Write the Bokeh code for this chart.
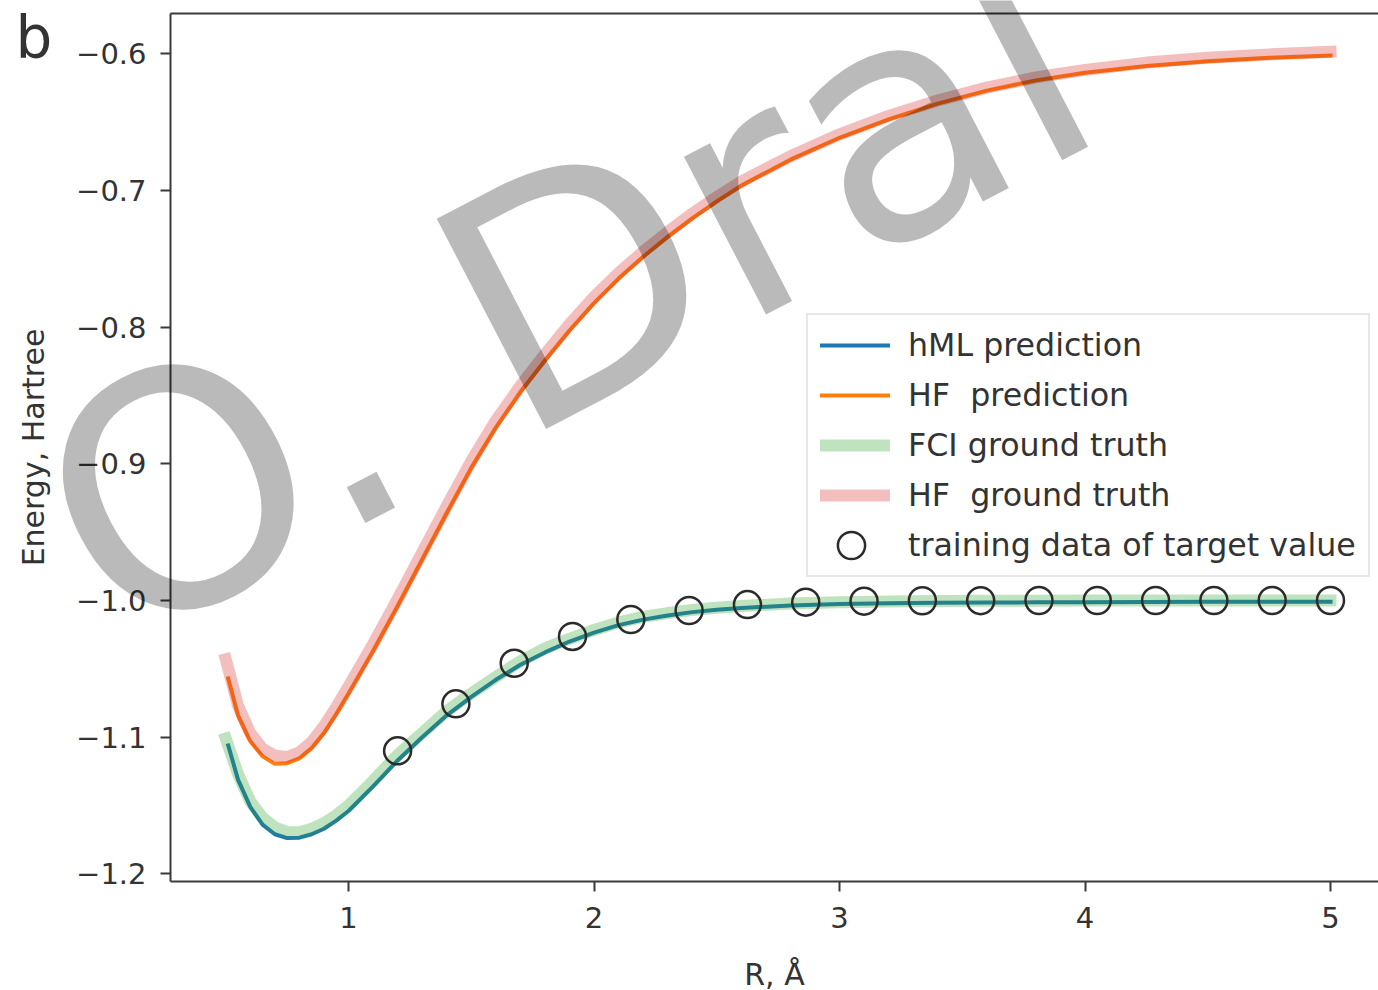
from bokeh.plotting import figure
from bokeh.models import (Range1d, FixedTicker, CustomJSTickFormatter, Legend, LegendItem,
                          Label, LinearAxis)
from bokeh.embed import file_html
from bokeh.resources import INLINE

# ---------------- data ----------------
x_ticks = [1, 2, 3, 4, 5]
y_ticks = [-1.2, -1.1, -1.0, -0.9, -0.8, -0.7, -0.6]
x_lim = (0.275, 5.1955)
y_lim = (-1.2056, -0.5706)

r_gt = [0.5, 0.55, 0.6, 0.65, 0.7, 0.75, 0.8, 0.85, 0.9, 0.95, 1.0, 1.1, 1.2, 1.3, 1.4, 1.5,
        1.6, 1.7, 1.8, 1.9, 2.0, 2.1, 2.2, 2.3, 2.4, 2.5, 2.6, 2.8, 3.0, 3.2, 3.4, 3.6, 3.8,
        4.0, 4.25, 4.5, 4.75, 5.0]
fci_gt = [-1.101, -1.127, -1.147, -1.159, -1.166, -1.1695, -1.1695, -1.167, -1.163, -1.157,
          -1.150, -1.132, -1.113, -1.097, -1.081, -1.068, -1.056, -1.0445, -1.035, -1.028,
          -1.0215, -1.016, -1.012, -1.0092, -1.007, -1.0053, -1.004, -1.0022, -1.0012, -1.0007,
          -1.0004, -1.0002, -1.0001, -1.0, -1.0, -1.0, -1.0, -1.0]
hf_gt = [-1.043, -1.077, -1.097, -1.1085, -1.1135, -1.1145, -1.111, -1.1035, -1.092, -1.078,
         -1.063, -1.032, -0.999, -0.965, -0.931, -0.898, -0.8685, -0.843, -0.820, -0.798,
         -0.778, -0.7605, -0.7448, -0.7305, -0.717, -0.7048, -0.6935, -0.675, -0.659, -0.6455,
         -0.6342, -0.6248, -0.6173, -0.6118, -0.6065, -0.603, -0.6005, -0.5985]

r_pred = [0.51, 0.55, 0.6, 0.65, 0.7, 0.75, 0.8, 0.85, 0.9, 0.95, 1.0, 1.1, 1.2, 1.3, 1.4, 1.5,
          1.6, 1.7, 1.8, 1.9, 2.0, 2.1, 2.2, 2.3, 2.4, 2.5, 2.6, 2.8, 3.0, 3.2, 3.4, 3.6, 3.8,
          4.0, 4.25, 4.5, 4.75, 5.0]
hml_pred = [-1.106, -1.131, -1.151, -1.164, -1.171, -1.1738, -1.1735, -1.171, -1.167, -1.161,
            -1.154, -1.136, -1.117, -1.100, -1.084, -1.0705, -1.058, -1.047, -1.038, -1.030,
            -1.0235, -1.018, -1.014, -1.011, -1.0085, -1.0068, -1.0055, -1.0036, -1.0026,
            -1.002, -1.0017, -1.0015, -1.0013, -1.0012, -1.0011, -1.001, -1.001, -1.001]
hf_pred = [-1.057, -1.084, -1.103, -1.114, -1.1195, -1.119, -1.1155, -1.108, -1.097, -1.083,
           -1.068, -1.037, -1.004, -0.970, -0.936, -0.903, -0.8735, -0.8475, -0.8245, -0.8025,
           -0.7825, -0.7645, -0.7485, -0.734, -0.7205, -0.708, -0.6965, -0.6775, -0.6615,
           -0.648, -0.6365, -0.627, -0.6195, -0.614, -0.609, -0.6055, -0.603, -0.6013]

r_train = [1.2, 1.4375, 1.675, 1.9125, 2.15, 2.3875, 2.625, 2.8625, 3.1, 3.3375, 3.575,
           3.8125, 4.05, 4.2875, 4.525, 4.7625, 5.0]
e_train = [-1.110, -1.0756, -1.0459, -1.0263, -1.0139, -1.0073, -1.0030, -1.0012, -1.0005,
           -1.0002, -1.0001, -1.0, -1.0, -1.0, -1.0, -1.0, -1.0]

labels = ["hML prediction", "HF  prediction", "FCI ground truth", "HF  ground truth",
          "training data of target value"]

FONT = "DejaVu Sans"
TXT = "#333333"
AX = "#3a3a3a"

# the frame covers the whole canvas; the axes sit at fixed positions inside it
p = figure(width=1378, height=990, output_backend="svg", toolbar_location=None,
           x_range=Range1d(-0.41752, 5.19552), y_range=Range1d(-1.28530, -0.56108),
           x_axis_location=None, y_axis_location=None,
           min_border_left=0, min_border_right=0, min_border_top=0, min_border_bottom=0)
p.outline_line_color = None
p.background_fill_color = "white"
p.border_fill_color = "white"
p.grid.visible = False

fmt = CustomJSTickFormatter(code="return tick.toFixed(1).replace('-', '\\u2212');")
xfmt = CustomJSTickFormatter(code="return tick.toFixed(0);")
xaxis = LinearAxis(ticker=FixedTicker(ticks=x_ticks), formatter=xfmt,
                   fixed_location=y_lim[0], bounds=x_lim, axis_label="R, Å")
yaxis = LinearAxis(ticker=FixedTicker(ticks=y_ticks), formatter=fmt,
                   fixed_location=x_lim[0], bounds=y_lim, axis_label="Energy, Hartree")
topaxis = LinearAxis(ticker=FixedTicker(ticks=[]), fixed_location=y_lim[1], bounds=x_lim,
                     major_label_text_font_size="0px")
for ax in (xaxis, yaxis, topaxis):
    ax.axis_line_color = AX
    ax.axis_line_width = 2
    ax.major_tick_line_color = AX
    ax.major_tick_line_width = 2
    ax.major_tick_out = 10
    ax.major_tick_in = 0
    ax.minor_tick_line_color = None
    ax.major_label_text_font = FONT
    ax.major_label_text_color = TXT
    ax.axis_label_text_font = FONT
    ax.axis_label_text_font_size = "30px"
    ax.axis_label_text_font_style = "normal"
    ax.axis_label_text_color = TXT
for ax in (xaxis, yaxis):
    ax.major_label_text_font_size = "29px"
yaxis.major_label_standoff = 14
xaxis.major_label_standoff = 15
yaxis.axis_label_standoff = 22
xaxis.axis_label_standoff = 26
p.add_layout(xaxis, "below")
p.add_layout(yaxis, "left")
p.add_layout(topaxis, "above")

r1 = p.line(r_pred, hml_pred, line_color="#1f77b4", line_width=4, line_cap="square",
            line_join="round")
r2 = p.line(r_pred, hf_pred, line_color="#ff7f0e", line_width=4, line_cap="square",
            line_join="round")
r3 = p.line(r_gt, fci_gt, line_color="#2ca02c", line_alpha=0.3, line_width=12,
            line_cap="square", line_join="round")
r4 = p.line(r_gt, hf_gt, line_color="#d62728", line_alpha=0.3, line_width=12,
            line_cap="square", line_join="round")
r5 = p.scatter(r_train, e_train, marker="circle", size=27, fill_color=None,
               line_color="#2b2b2b", line_width=2.5)
# empty stand-in so the legend row keeps its text while the big marker is drawn separately
proxy = p.scatter([], [], marker="circle", size=1, fill_alpha=0, line_alpha=0)

legend = Legend(items=[LegendItem(label=l, renderers=[r]) for l, r in
                       zip(labels, [r1, r2, r3, r4, proxy])],
                location=(806, 413), margin=0, padding=12, spacing=14,
                glyph_width=70, glyph_height=30, label_standoff=18,
                label_text_font=FONT, label_text_font_size="31.7px", label_text_color=TXT,
                border_line_color="#d0d0d0", border_line_width=2,
                background_fill_color="white", background_fill_alpha=0.85)
p.add_layout(legend, "center")
legend_marker = Legend(items=[LegendItem(label=" ", renderers=[r5])],
                       location=(816, 411), margin=0, padding=0, spacing=0,
                       glyph_width=70, glyph_height=68, label_standoff=0,
                       label_text_font_size="10px",
                       border_line_color=None, background_fill_alpha=0)
p.add_layout(legend_marker, "center")

# panel letter
p.add_layout(Label(x=-0.3564, y=-0.5882, text="b", text_font=FONT, text_font_size="58px",
                   text_color=TXT, text_baseline="alphabetic"))

# watermark
p.add_layout(Label(x=-0.1450, y=-0.9640, text="O. Dral", text_font=FONT,
                   text_font_size="325px", text_color="black", text_alpha=0.27,
                   angle=27.5, angle_units="deg", text_baseline="alphabetic",
                   text_align="left", level="overlay"))

open("out.html", "w").write(file_html(p, INLINE))
